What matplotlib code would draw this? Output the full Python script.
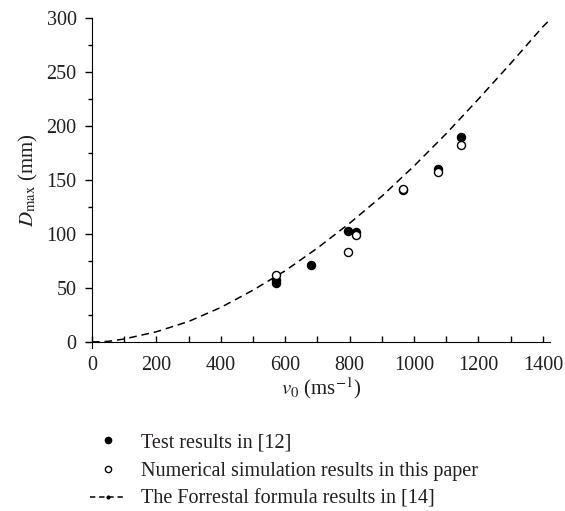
import matplotlib
matplotlib.use("Agg")
import matplotlib.pyplot as plt
from matplotlib.lines import Line2D
from matplotlib.ticker import MultipleLocator

plt.rcParams['font.family'] = ['Liberation Serif', 'DejaVu Serif']
plt.rcParams['mathtext.fontset'] = 'stix'
plt.rcParams['text.color'] = '#231f20'
plt.rcParams['xtick.labelcolor'] = '#231f20'
plt.rcParams['ytick.labelcolor'] = '#231f20'
plt.rcParams['axes.labelcolor'] = '#231f20'

# Test results [12]
test_v = [570, 570, 680, 795, 820, 965, 1075, 1145]
test_d = [55, 57.5, 71, 103, 102, 141, 160, 190]

# Numerical simulation results
sim_v = [570, 795, 820, 965, 1075, 1145]
sim_d = [62, 83.5, 99, 142, 157, 182]

# Forrestal formula curve
forr_v = [0, 50, 100, 200, 300, 400, 500, 600, 700, 800, 900, 1000, 1100, 1200, 1300, 1400, 1427]
forr_d = [0, 0.6, 2.8, 9.5, 19, 32, 48, 66, 87, 110, 135, 163, 193, 225, 258, 292, 300]

labels = ["Test results in [12]",
          "Numerical simulation results in this paper",
          "The Forrestal formula results in [14]"]

fig = plt.figure(figsize=(5.65, 5.11), dpi=100)
ax = fig.add_axes([0.1628, 0.3307, 0.8106, 0.634])

ax.plot(forr_v, forr_d, color='black', lw=1.1, dashes=(5, 3.2))
ax.plot(test_v, test_d, 'o', color='black', ms=5.8, zorder=3)
ax.plot(sim_v, sim_d, 'o', mfc='white', mec='black', mew=1.0, ms=5.8, zorder=4)

ax.set_xlim(0, 1422)
ax.set_ylim(0, 300)
for s in ['top', 'right']:
    ax.spines[s].set_visible(False)
ax.spines['bottom'].set_bounds(-18, 1422)
ax.spines['left'].set_bounds(-5.5, 300)
ax.spines['bottom'].set_clip_on(False)
ax.spines['left'].set_clip_on(False)

ax.xaxis.set_major_locator(MultipleLocator(200))
ax.xaxis.set_minor_locator(MultipleLocator(100))
ax.yaxis.set_major_locator(MultipleLocator(50))
ax.yaxis.set_minor_locator(MultipleLocator(25))
ax.tick_params(axis='x', which='both', direction='in', length=4, width=1, labelsize=14.5, pad=10)
ax.tick_params(axis='y', which='major', direction='out', length=5, width=1, labelsize=14.5, pad=6)
ax.tick_params(axis='y', which='minor', direction='out', length=3, width=1)

ax.set_xlabel(r"$v_0$ (ms$^{-1}$)", fontsize=15, labelpad=0)
ax.set_ylabel(r"$D_{\mathrm{max}}$ (mm)", fontsize=15, labelpad=5)

handles = [
    Line2D([], [], ls='none', marker='o', color='black', ms=4.5),
    Line2D([], [], ls='none', marker='o', mfc='white', mec='black', ms=4.5, mew=1.0),
    Line2D([], [], color='black', lw=1.1, dashes=(3.5, 2.5), marker='o', ms=2),
]
fig.legend(handles, labels, loc='center left', bbox_to_anchor=(0.160, 0.078),
           frameon=False, fontsize=14.5, handlelength=1.75, handletextpad=0.75,
           labelspacing=0.45, borderpad=0, borderaxespad=0)

fig.savefig("out.png", dpi=100)
